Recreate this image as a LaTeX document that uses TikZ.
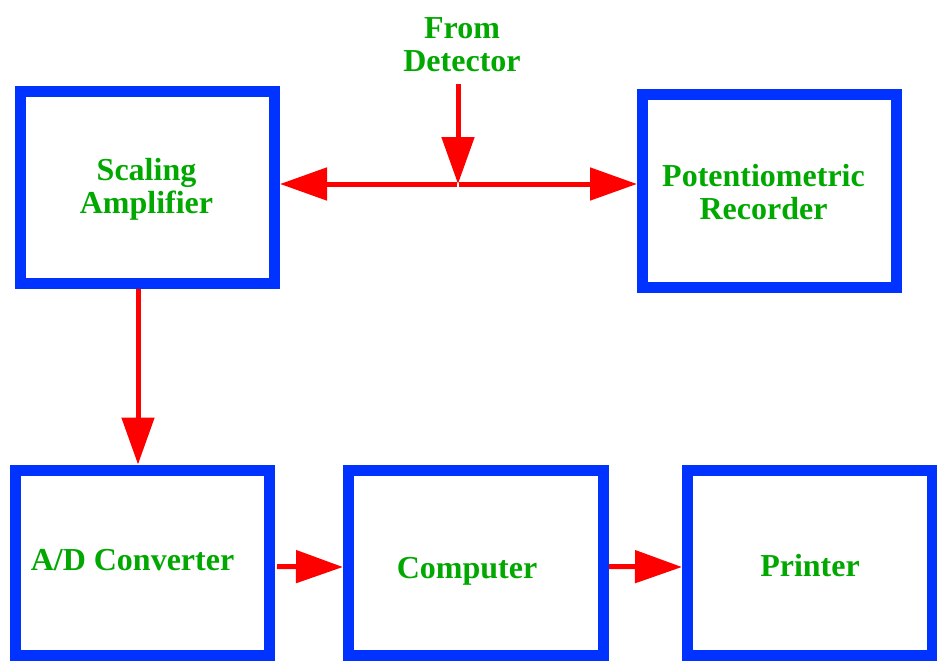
\documentclass[tikz,border=0pt]{standalone}
\usepackage{fontspec}
\setmainfont{Liberation Serif}
\usetikzlibrary{arrows.meta,positioning}
\definecolor{boxblue}{HTML}{0033FF}
\definecolor{txtgreen}{HTML}{00A800}
\definecolor{arrred}{HTML}{FF0000}
\tikzset{
  blk/.style={draw=boxblue, line width=11pt},
  lbl/.style={align=center, text=txtgreen, inner sep=0pt,
    font=\fontsize{32}{33}\selectfont\bfseries},
  arr/.style={-{Triangle[length=47pt,width=32pt]}, line width=5pt, arrred},
}

\begin{document}
\begin{tikzpicture}[x=1pt, y=-1pt]
  \useasboundingbox (0,0) rectangle (937,661);
  % top row
  \node[blk, minimum width=254pt, minimum height=192pt] (sa) at (147.5,187.5) {};
  \node[lbl, xshift=-1pt, yshift=-2pt] (satxt) at (sa) {Scaling\\Amplifier};
  \node[blk, minimum width=254pt, minimum height=193pt] (rec) at (769.5,191) {};
  \node[lbl, xshift=-6pt, yshift=-1pt] (rectxt) at (rec) {Potentiometric\\Recorder};
  \node[lbl] (det) at (462,45) {From\\Detector};
  \coordinate (junc) at (458,184);
  % bottom row
  \node[blk, minimum width=254pt, minimum height=185pt] (adc) at (142.5,562.5) {};
  \node[lbl, xshift=-10pt, yshift=2pt] (adctxt) at (adc) {A/D Converter};
  \node[blk, minimum width=255pt, minimum height=185pt] (comp) at (476,562.5) {};
  \node[lbl, xshift=-9pt, yshift=-9pt] (comptxt) at (comp) {Computer};
  \node[blk, minimum width=245pt, minimum height=185pt] (prn) at (810,562.5) {};
  \node[lbl, yshift=-3pt] (prntxt) at (prn) {Printer};
  % signal from detector
  \draw[arr] (det.south -| junc) ++(0,12) -- (junc);
  \draw[arr] (junc) ++(-1,0) -- (sa.east |- junc);
  \draw[arr] (junc) ++(1,0) -- (rec.west |- junc);
  % data path
  \draw[arr] (sa.south -| 138,0) -- (adc.north -| 138,0);
  \draw[arr] (adc.east) ++(2,4) -- (comp.west |- 0,567);
  \draw[arr] (comp.east) ++(0,4) -- (prn.west |- 0,567);
\end{tikzpicture}
\end{document}
